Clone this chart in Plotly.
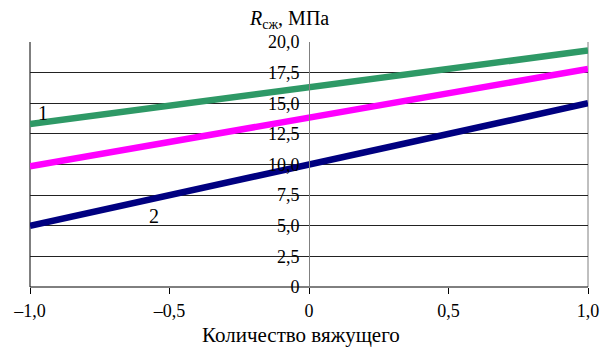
import plotly.graph_objects as go

x_vals = [-1.0, 0.0, 1.0]
series1_green = [13.3, 16.3, 19.3]
series_magenta = [9.85, 13.8, 17.8]
series2_navy = [5.0, 10.0, 15.0]

y_tickvals = [0, 2.5, 5, 7.5, 10, 12.5, 15, 17.5, 20]
y_ticktext = ["0", "2,5", "5,0", "7,5", "10,0", "12,5", "15,0", "17,5", "20,0"]
x_tickvals = [-1, -0.5, 0, 0.5, 1]
x_ticktext = ["–1,0", "–0,5", "0", "0,5", "1,0"]

FONT = "Liberation Serif, Times New Roman, serif"

fig = go.Figure()
fig.add_trace(go.Scatter(x=x_vals, y=series1_green, mode="lines",
                         line=dict(color="#2E9966", width=6.5), showlegend=False))
fig.add_trace(go.Scatter(x=x_vals, y=series_magenta, mode="lines",
                         line=dict(color="#FF00FF", width=6.5), showlegend=False))
fig.add_trace(go.Scatter(x=x_vals, y=series2_navy, mode="lines",
                         line=dict(color="#000080", width=6.5), showlegend=False))

fig.update_layout(
    width=601, height=347,
    margin=dict(l=30, r=13, t=42, b=60, autoexpand=False),
    paper_bgcolor="white", plot_bgcolor="white",
    font=dict(family=FONT, size=18, color="black"),
    xaxis=dict(range=[-1, 1], tickvals=x_tickvals, ticktext=x_ticktext,
               showgrid=False, zeroline=False, showline=False, automargin=False,
               ticks="outside", ticklen=6, tickcolor="black", ticklabelstandoff=1,
               tickfont=dict(family=FONT, size=18)),
    yaxis=dict(range=[0, 20], tickvals=y_tickvals, ticktext=y_ticktext,
               anchor="free", position=0.5, automargin=False,
               showgrid=True, gridcolor="#222222", gridwidth=1,
               zeroline=False, showline=True, linecolor="#808080", linewidth=1,
               ticks="", ticklabelstandoff=6,
               tickfont=dict(family=FONT, size=18)),
)

# plot frame: left border, right border, bottom axis
fig.add_shape(type="line", xref="x domain", yref="y domain", x0=0, x1=0, y0=0, y1=1,
              line=dict(color="black", width=1), layer="below")
fig.add_shape(type="line", xref="x domain", yref="y domain", x0=1, x1=1, y0=0, y1=1,
              line=dict(color="#808080", width=1), layer="below")
fig.add_shape(type="line", xref="x domain", yref="y domain", x0=0, x1=1, y0=0, y1=0,
              line=dict(color="black", width=1), layer="below")

fig.add_annotation(text="<i>R</i><sub>сж</sub>, МПа", xref="paper", yref="paper",
                   x=0.464, y=1.09, xanchor="center", yanchor="middle",
                   showarrow=False, font=dict(family=FONT, size=20))
fig.add_annotation(text="Количество вяжущего", xref="paper", yref="paper",
                   x=0.486, y=-0.194, xanchor="center", yanchor="middle",
                   showarrow=False, font=dict(family=FONT, size=21))
fig.add_annotation(text="1", x=-0.953, y=14.2, showarrow=False,
                   font=dict(family=FONT, size=20))
fig.add_annotation(text="2", x=-0.556, y=5.8, showarrow=False,
                   font=dict(family=FONT, size=20))

fig.write_html("out.html", config={"displayModeBar": False},
               post_script="document.body.style.margin='0';document.body.style.padding='0';")
